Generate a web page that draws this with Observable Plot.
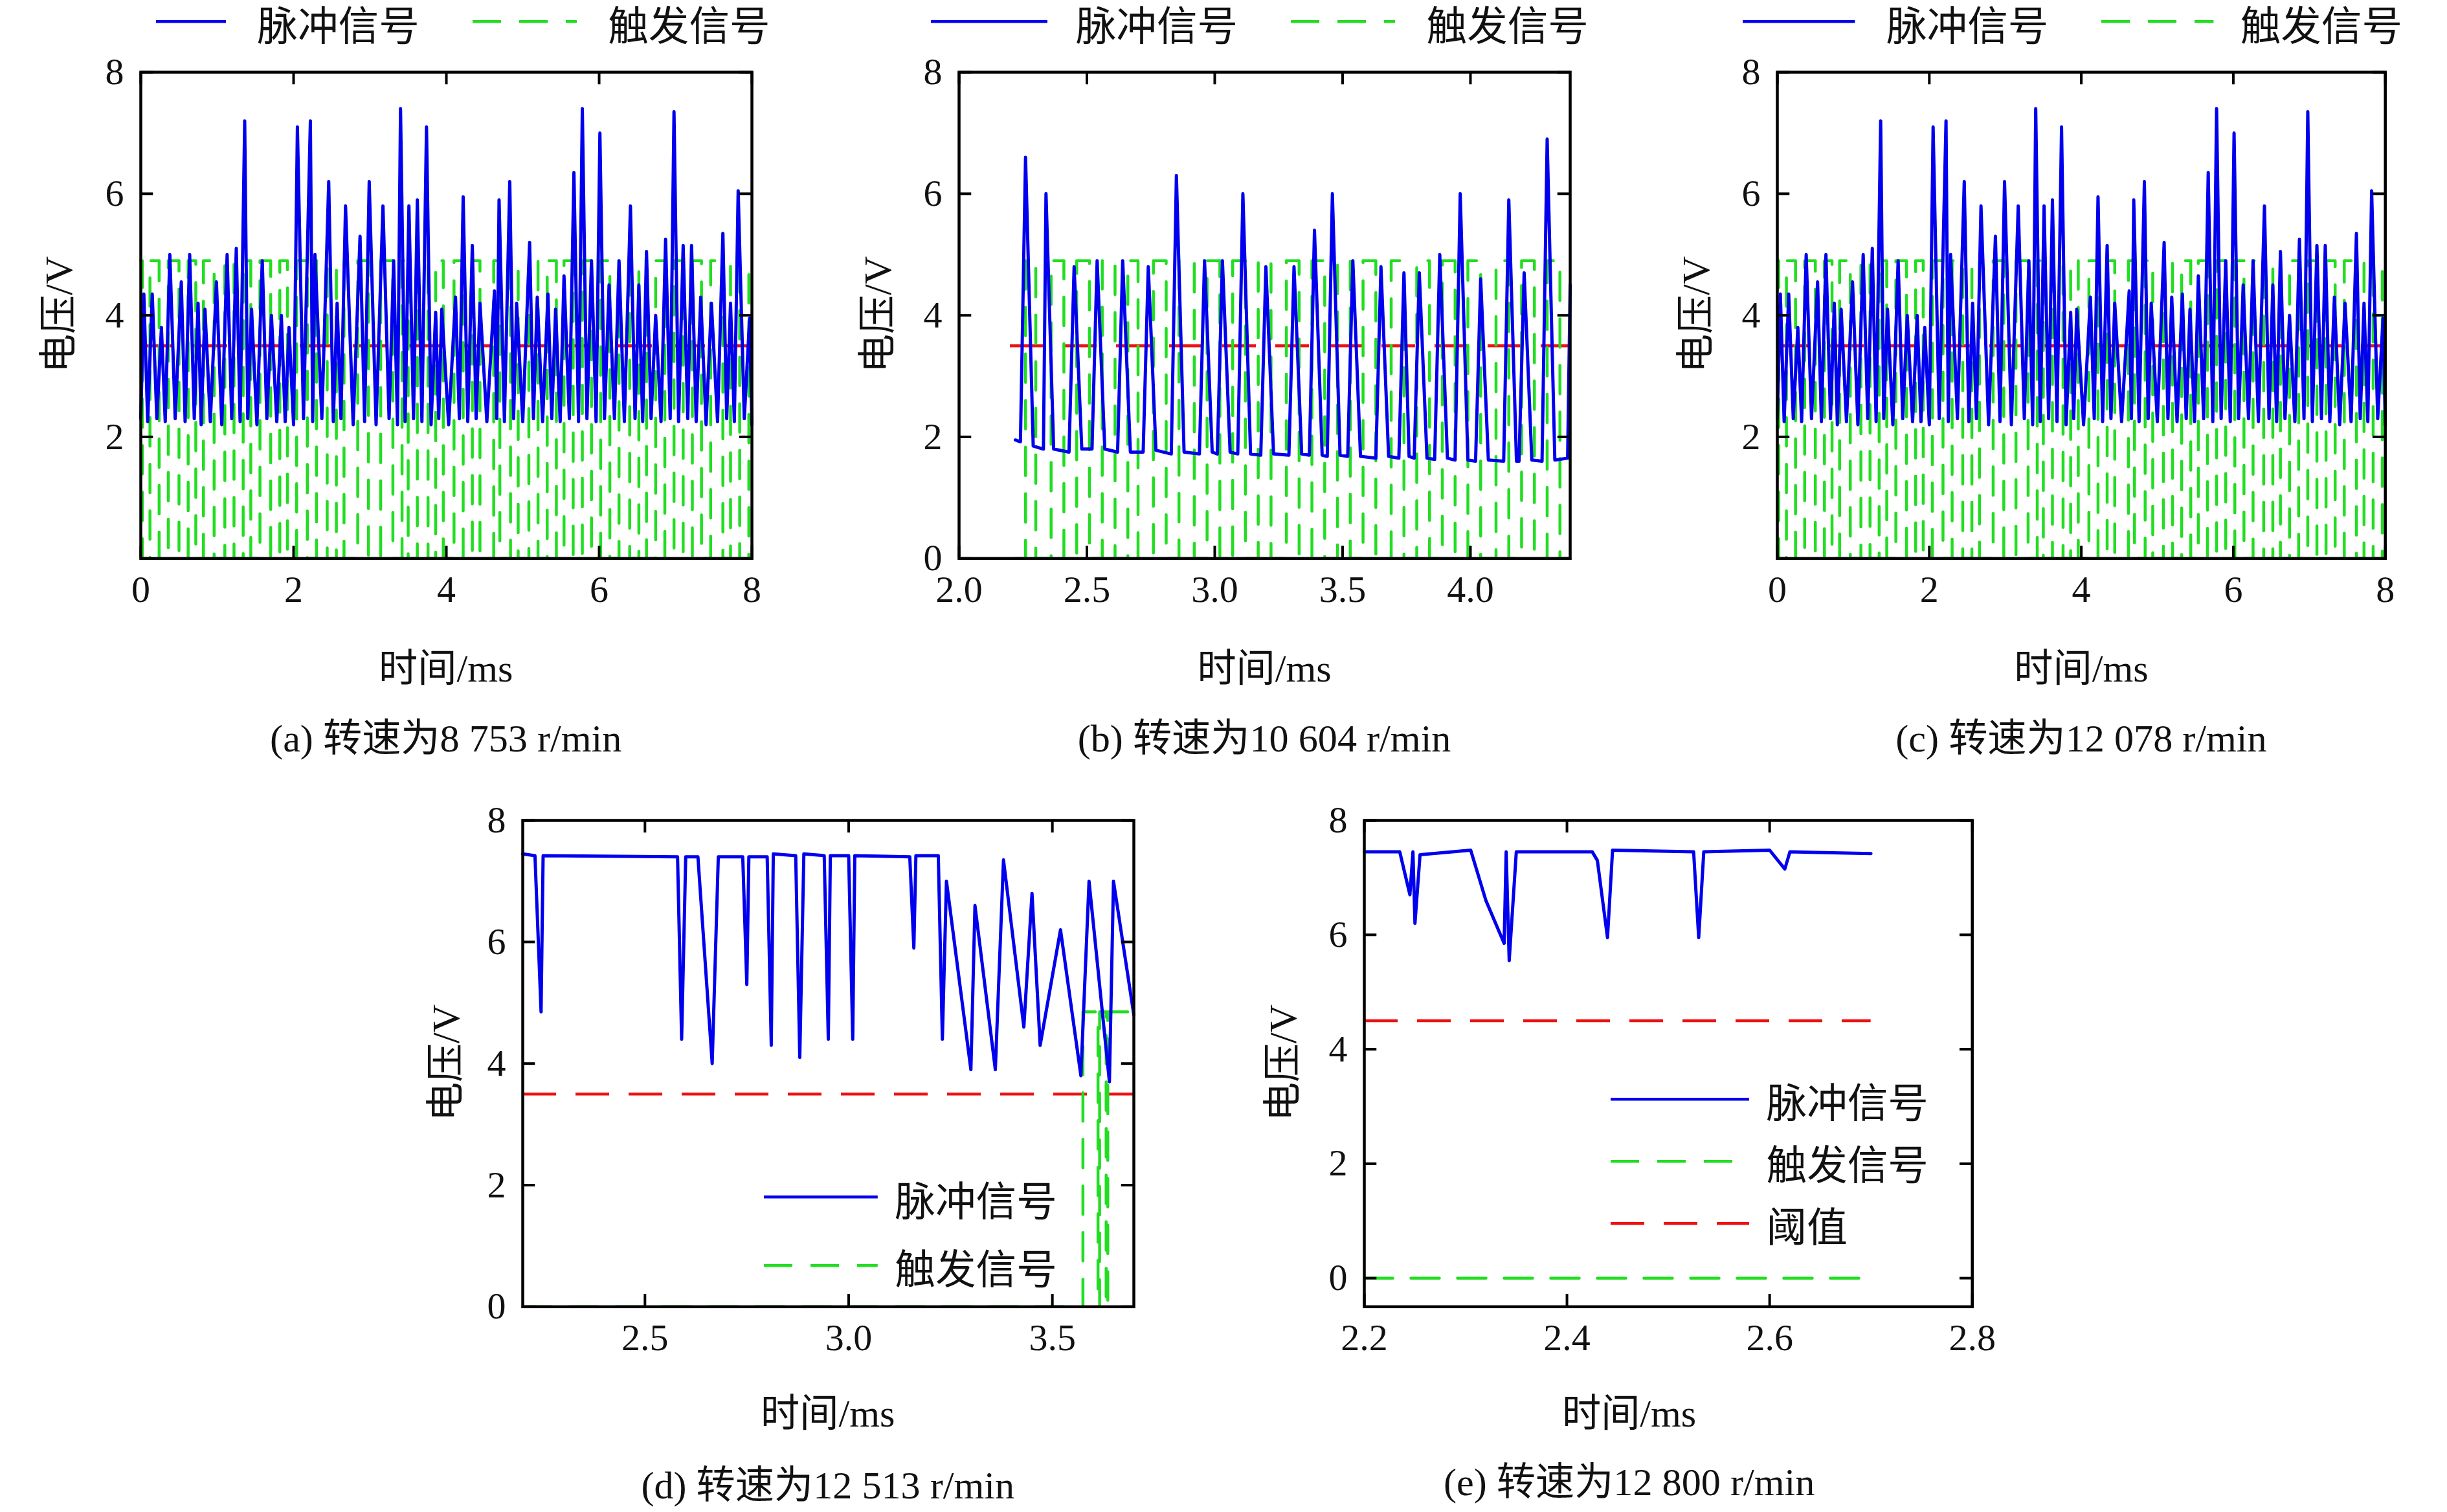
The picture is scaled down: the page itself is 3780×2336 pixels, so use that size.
<!DOCTYPE html>
<html lang="zh">
<head>
<meta charset="utf-8">
<title>脉冲信号与触发信号</title>
<script src="https://cdn.jsdelivr.net/npm/d3@7"></script>
<script src="https://cdn.jsdelivr.net/npm/@observablehq/plot@0.6"></script>
<style>
  body { margin: 0; background: #fff; }
  #page { position: relative; width: 3780px; height: 2336px; }
  .box { position: absolute; }
  .txt { position: absolute; font-family: 'Liberation Serif', 'Noto Sans CJK SC', serif; color: #111; white-space: nowrap; }
</style>
</head>
<body>
<div id="page"></div>
<script>
  // --- data ---
  const pulseA = [[0,2.3],[0.04,4.35],[0.09,2.25],[0.15,4.35],[0.21,2.3],[0.27,3.8],[0.32,2.25],[0.38,5.0],[0.45,2.3],
    [0.53,4.55],[0.58,2.25],[0.64,5.0],[0.70,2.3],[0.75,4.2],[0.79,2.2],[0.84,4.1],[0.91,2.25],[0.99,4.55],[1.06,2.2],
    [1.13,5.0],[1.19,2.3],[1.25,5.1],[1.30,2.25],[1.36,7.2],[1.40,2.3],[1.45,4.1],[1.52,2.2],[1.59,4.9],[1.65,2.3],
    [1.71,4.0],[1.78,2.25],[1.84,4.0],[1.89,2.25],[1.94,3.8],[2.00,2.2],[2.05,7.1],[2.13,2.3],[2.22,7.2],[2.25,2.25],
    [2.28,5.0],[2.37,2.3],[2.46,6.2],[2.52,2.25],[2.57,4.2],[2.62,2.3],[2.68,5.8],[2.78,2.2],[2.87,5.3],[2.93,2.25],
    [2.99,6.2],[3.08,2.2],[3.17,5.8],[3.25,2.3],[3.31,4.9],[3.36,2.2],[3.40,7.4],[3.46,2.25],[3.51,5.8],[3.57,2.3],
    [3.62,5.9],[3.68,2.25],[3.74,7.1],[3.80,2.2],[3.86,4.05],[3.90,2.3],[3.94,4.1],[4.03,2.2],[4.12,4.3],[4.17,2.3],
    [4.22,5.95],[4.28,2.25],[4.34,5.15],[4.39,2.3],[4.44,4.2],[4.53,2.25],[4.63,4.4],[4.66,2.3],[4.69,5.9],[4.76,2.25],
    [4.83,6.2],[4.88,2.3],[4.92,4.2],[5.00,2.25],[5.09,5.2],[5.14,2.3],[5.19,4.3],[5.26,2.25],[5.33,4.35],[5.38,2.3],
    [5.43,4.1],[5.49,2.25],[5.54,4.65],[5.61,2.3],[5.67,6.35],[5.73,2.25],[5.78,7.4],[5.84,2.3],[5.90,4.9],[5.96,2.25],
    [6.01,7.0],[6.07,2.3],[6.13,4.5],[6.20,2.3],[6.26,4.9],[6.33,2.25],[6.41,5.8],[6.47,2.3],[6.52,4.5],[6.57,2.25],
    [6.62,5.05],[6.68,2.3],[6.74,4.0],[6.81,2.25],[6.87,5.25],[6.93,2.3],[6.98,7.35],[7.04,2.25],[7.10,5.15],[7.16,2.3],
    [7.21,5.15],[7.27,2.25],[7.33,4.3],[7.40,2.2],[7.47,4.2],[7.55,2.25],[7.62,5.35],[7.67,2.3],[7.72,4.2],[7.77,2.25],
    [7.82,6.05],[7.90,2.3],[7.97,3.95],[8.0,2.2]];
  const edgesA = [0.02,0.12,0.24,0.36,0.5,0.62,0.72,0.82,0.96,1.1,1.22,1.34,1.44,1.56,1.7,1.82,1.92,2.04,2.18,2.3,2.44,
    2.56,2.66,2.84,2.98,3.14,3.3,3.42,3.5,3.62,3.76,3.86,3.96,4.1,4.22,4.34,4.44,4.62,4.7,4.84,4.94,5.08,5.2,5.32,5.44,
    5.54,5.66,5.78,5.9,6.02,6.14,6.26,6.4,6.52,6.62,6.74,6.86,6.98,7.1,7.22,7.34,7.46,7.62,7.72,7.84,7.96];

  const pulseB = [[2.22,1.95],[2.24,1.92],[2.26,6.6],[2.29,1.85],[2.33,1.8],[2.34,6.0],[2.37,1.8],[2.43,1.75],[2.45,4.8],
    [2.48,1.8],[2.52,1.8],[2.54,4.9],[2.57,1.8],[2.62,1.75],[2.64,4.9],[2.67,1.75],[2.72,1.75],[2.74,4.8],[2.77,1.78],
    [2.83,1.72],[2.85,6.3],[2.88,1.75],[2.94,1.72],[2.96,4.9],[2.99,1.75],[3.01,1.72],[3.03,4.9],[3.06,1.75],[3.09,1.72],
    [3.11,6.0],[3.14,1.72],[3.18,1.7],[3.20,4.8],[3.23,1.72],[3.29,1.7],[3.31,4.8],[3.34,1.72],[3.37,1.7],[3.39,5.4],
    [3.42,1.7],[3.44,1.68],[3.46,6.0],[3.49,1.7],[3.52,1.68],[3.54,4.9],[3.57,1.68],[3.63,1.65],[3.65,4.8],[3.68,1.68],
    [3.72,1.65],[3.74,4.7],[3.76,1.68],[3.78,1.65],[3.80,4.7],[3.83,1.65],[3.86,1.63],[3.88,5.0],[3.91,1.65],[3.94,1.62],
    [3.96,6.0],[3.99,1.62],[4.02,1.6],[4.04,4.6],[4.07,1.62],[4.13,1.6],[4.15,5.9],[4.18,1.6],[4.19,1.6],[4.21,4.7],
    [4.24,1.62],[4.28,1.6],[4.30,6.9],[4.33,1.62],[4.38,1.65],[4.39,4.5]];
  const edgesB = [2.26,2.30,2.36,2.41,2.46,2.51,2.56,2.61,2.66,2.70,2.76,2.81,2.86,2.92,2.97,3.02,3.07,3.12,3.17,3.22,
    3.28,3.33,3.38,3.43,3.48,3.53,3.58,3.63,3.69,3.74,3.79,3.84,3.89,3.94,3.99,4.04,4.10,4.15,4.20,4.25,4.30,4.35];

  const pulseD = [[2.2,7.45],[2.23,7.42],[2.245,4.85],[2.25,7.42],[2.58,7.4],[2.59,4.4],[2.60,7.4],[2.63,7.4],[2.665,4.0],
    [2.68,7.4],[2.74,7.4],[2.75,5.3],[2.755,7.4],[2.8,7.4],[2.81,4.3],[2.815,7.45],[2.87,7.42],[2.88,4.1],[2.89,7.45],
    [2.94,7.42],[2.95,4.4],[2.955,7.42],[3.0,7.42],[3.01,4.4],[3.015,7.42],[3.15,7.4],[3.16,5.9],[3.165,7.42],[3.22,7.42],
    [3.23,4.4],[3.24,7.0],[3.30,3.9],[3.31,6.6],[3.36,3.9],[3.38,7.35],[3.43,4.6],[3.45,6.8],[3.47,4.3],[3.52,6.2],
    [3.57,3.8],[3.59,7.0],[3.64,3.7],[3.65,7.0],[3.7,4.8]];
  const edgesD = [3.575, 3.612, 3.616, 3.632, 3.636];

  const pulseE = [[2.2,7.45],[2.235,7.45],[2.245,6.7],[2.248,7.45],[2.25,6.2],[2.255,7.4],[2.305,7.48],[2.32,6.6],
    [2.338,5.85],[2.34,7.45],[2.343,5.55],[2.35,7.45],[2.425,7.45],[2.43,7.3],[2.44,5.95],[2.445,7.48],[2.525,7.45],
    [2.53,5.95],[2.535,7.45],[2.6,7.48],[2.615,7.15],[2.62,7.45],[2.7,7.42]];

  const captions = ["(a) 转速为8 753 r/min", "(b) 转速为10 604 r/min", "(c) 转速为12 078 r/min",
    "(d) 转速为12 513 r/min", "(e) 转速为12 800 r/min"];

  // --- drawing ---
  const S = 2336 / 970;
  const page = document.getElementById("page");
  const BLUE = "#0000ee", GREEN = "#22dd22", RED = "#ee1111";
  const FONT = "'Liberation Serif', serif";

  function trigger(edges, t0, t1, startHigh, hi) {
    let lv = startHigh ? hi : 0;
    const pts = [[t0, lv]];
    for (const e of edges) { pts.push([e, lv]); lv = lv ? 0 : hi; pts.push([e, lv]); }
    pts.push([t1, lv]);
    return pts;
  }

  function text(str, x, y, size, opts = {}) {
    const d = document.createElement("div");
    d.className = "txt";
    d.textContent = str;
    d.style.fontSize = (size * S) + "px";
    d.style.left = (x * S) + "px";
    d.style.top = (y * S) + "px";
    d.style.transform = opts.rotate ? "translate(-50%,-50%) rotate(-90deg)" : "translate(-50%,-50%)";
    if (opts.left) d.style.transform = "translate(0,-50%)";
    page.appendChild(d);
  }

  function legendLine(x1, x2, y, color, dash) {
    const svg = d3.create("svg").attr("class", "box")
      .style("left", (x1 * S) + "px").style("top", ((y - 3) * S) + "px")
      .attr("width", (x2 - x1) * S).attr("height", 6 * S);
    svg.append("line").attr("x1", 0).attr("x2", (x2 - x1) * S).attr("y1", 3 * S).attr("y2", 3 * S)
      .attr("stroke", color).attr("stroke-width", 4.5).attr("stroke-dasharray", dash || null);
    page.appendChild(svg.node());
  }

  function panel(p) {
    const ml = 150, mr = 30, mt = 30, mb = 110;
    const w = (p.x1 - p.x0) * S, h = (p.y1 - p.y0) * S;
    const [xa, xb] = p.xd, [ya, yb] = p.yd;
    const lx = (xb - xa) * 8 / (p.x1 - p.x0), ly = (yb - ya) * 8 / (p.y1 - p.y0);
    const marks = [
      Plot.ruleY([p.thr], {x1: p.thrX[0], x2: p.thrX[1], stroke: RED, strokeWidth: 4.5, strokeDasharray: "52,30"}),
      Plot.line(p.trig, {x: d => d[0], y: d => d[1], stroke: GREEN, strokeWidth: 4.5, strokeDasharray: "44,28"}),
      Plot.line(p.pulse, {x: d => d[0], y: d => d[1], stroke: BLUE, strokeWidth: 5}),
      Plot.ruleX(p.xt, {y1: ya, y2: ya + ly, stroke: "#000", strokeWidth: 4}),
      Plot.ruleX(p.xt, {y1: yb, y2: yb - ly, stroke: "#000", strokeWidth: 4}),
      Plot.ruleY(p.yt, {x1: xa, x2: xa + lx, stroke: "#000", strokeWidth: 4}),
      Plot.ruleY(p.yt, {x1: xb, x2: xb - lx, stroke: "#000", strokeWidth: 4}),
      Plot.frame({stroke: "#000", strokeWidth: 4.5})
    ];
    const chart = Plot.plot({
      width: w + ml + mr, height: h + mt + mb,
      marginLeft: ml, marginRight: mr, marginTop: mt, marginBottom: mb,
      style: {fontSize: "58px", fontFamily: FONT, color: "#111", background: "transparent", overflow: "visible"},
      x: {domain: p.xd, ticks: p.xt, tickFormat: p.xf, tickSize: 0, tickPadding: 26, label: null},
      y: {domain: p.yd, ticks: p.yt, tickFormat: d => d, tickSize: 0, tickPadding: 26, label: null},
      marks
    });
    chart.classList.add("box");
    chart.style.left = (p.x0 * S - ml) + "px";
    chart.style.top = (p.y0 * S - mt) + "px";
    page.appendChild(chart);
  }

  const trigA = trigger(edgesA, 0, 8, true, 4.9);
  const common = {yd: [0, 8], yt: [2, 4, 6, 8], thr: 3.5, xt: [0, 2, 4, 6, 8], xf: d => d, pulse: pulseA, trig: trigA, thrX: [0, 8], xd: [0, 8]};
  panel({...common, x0: 90, x1: 482, y0: 46, y1: 358});
  panel({x0: 615, x1: 1007, y0: 46, y1: 358, xd: [2.0, 4.39], yd: [0, 8], xt: [2.0, 2.5, 3.0, 3.5, 4.0], xf: d3.format(".1f"),
    yt: [0, 2, 4, 6, 8], thr: 3.5, thrX: [2.2, 4.39], pulse: pulseB, trig: trigger(edgesB, 2.22, 4.39, false, 4.9)});
  panel({...common, x0: 1140, x1: 1530, y0: 46, y1: 358});
  panel({x0: 335, x1: 727, y0: 526, y1: 838, xd: [2.2, 3.7], yd: [0, 8], xt: [2.5, 3.0, 3.5], xf: d3.format(".1f"),
    yt: [0, 2, 4, 6, 8], thr: 3.5, thrX: [2.2, 3.7], pulse: pulseD, trig: trigger(edgesD, 2.2, 3.7, false, 4.85)});
  panel({x0: 875, x1: 1265, y0: 526, y1: 838, xd: [2.2, 2.8], yd: [-0.5, 8], xt: [2.2, 2.4, 2.6, 2.8], xf: d3.format(".1f"),
    yt: [0, 2, 4, 6, 8], thr: 4.5, thrX: [2.2, 2.7], pulse: pulseE, trig: [[2.2, 0], [2.7, 0]]});

  // axis titles and captions
  const tops = [[90, 482, 35], [615, 1007, 560], [1140, 1530, 1085]];
  tops.forEach(([a, b, yl], i) => {
    text("电压/V", yl, 202, 25, {rotate: true});
    text("时间/ms", (a + b) / 2, 426, 25);
    text(captions[i], (a + b) / 2, 471, 25);
  });
  text("电压/V", 283, 682, 25, {rotate: true});
  text("时间/ms", 531, 904, 25);
  text(captions[3], 531, 950, 25);
  text("电压/V", 820, 682, 25, {rotate: true});
  text("时间/ms", 1045, 904, 25);
  text(captions[4], 1045, 948, 25);

  // legends
  [[100, 145, 165, 303, 370, 390], [597, 672, 690, 828, 895, 915], [1118, 1190, 1210, 1348, 1420, 1437]].forEach(l => {
    legendLine(l[0], l[1], 14, BLUE);
    text("脉冲信号", l[2], 14, 26, {left: true});
    legendLine(l[3], l[4], 14, GREEN, "44,28");
    text("触发信号", l[5], 14, 26, {left: true});
  });
  legendLine(490, 563, 768, BLUE); text("脉冲信号", 574, 768, 26, {left: true});
  legendLine(490, 563, 812, GREEN, "44,28"); text("触发信号", 574, 812, 26, {left: true});
  legendLine(1033, 1122, 705, BLUE); text("脉冲信号", 1133, 705, 26, {left: true});
  legendLine(1033, 1122, 745, GREEN, "44,28"); text("触发信号", 1133, 745, 26, {left: true});
  legendLine(1033, 1122, 785, RED, "52,30"); text("阈值", 1133, 785, 26, {left: true});
</script>
</body>
</html>
